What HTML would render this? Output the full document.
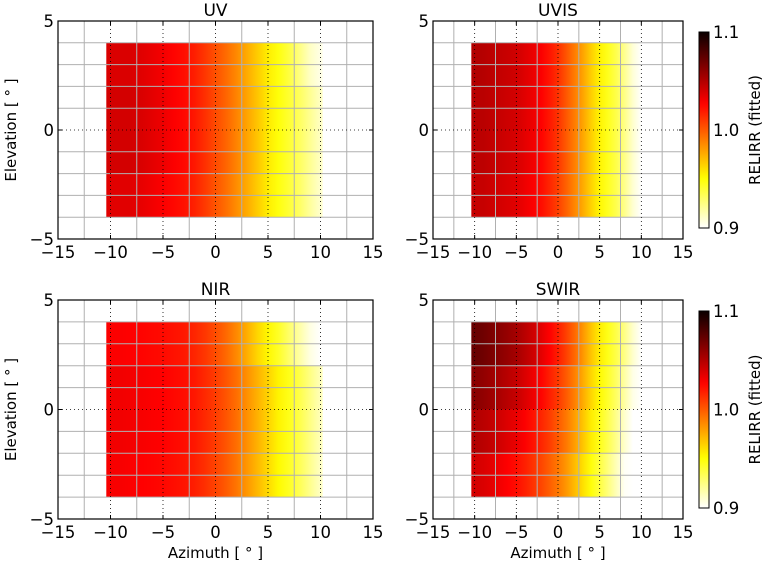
<!DOCTYPE html>
<html><head><meta charset="utf-8"><style>
html,body{margin:0;padding:0;background:#fff;}
svg{display:block;font-family:"DejaVu Sans","Liberation Sans",sans-serif;}
</style></head><body>
<svg id="fig" width="763" height="564" xmlns="http://www.w3.org/2000/svg"></svg>
<script>
const azimuthCenters=[-10,-9,-8,-7,-6,-5,-4,-3,-2,-1,0,1,2,3,4,5,6,7,8,9,10];
const elevationRows=[3,1,-1,-3];
const xTicks=[-15,-10,-5,0,5,10,15];
const yTicks=[-5,0,5];
const cbTicks=[0.9,1.0,1.1];
const uvValues=[
[1.038,1.038,1.038,1.036,1.033,1.030,1.026,1.023,1.018,1.011,1.003,0.995,0.986,0.976,0.966,0.956,0.948,0.938,0.925,0.912,0.905],
[1.040,1.040,1.040,1.038,1.035,1.032,1.028,1.025,1.020,1.013,1.005,0.997,0.988,0.978,0.968,0.957,0.949,0.941,0.932,0.922,0.912],
[1.040,1.040,1.040,1.038,1.035,1.032,1.028,1.025,1.020,1.013,1.005,0.997,0.988,0.978,0.968,0.957,0.949,0.941,0.932,0.922,0.912],
[1.036,1.036,1.036,1.034,1.031,1.028,1.025,1.022,1.017,1.010,1.002,0.994,0.985,0.976,0.966,0.956,0.948,0.940,0.931,0.920,0.910]];
const uvisValues=[
[1.050,1.049,1.047,1.045,1.043,1.041,1.037,1.033,1.028,1.021,1.013,1.002,0.990,0.978,0.965,0.954,0.945,0.935,0.922,0.908,0.9],
[1.048,1.048,1.046,1.044,1.042,1.040,1.036,1.032,1.027,1.020,1.012,1.001,0.990,0.978,0.965,0.954,0.945,0.936,0.924,0.910,0.9],
[1.047,1.047,1.045,1.043,1.041,1.039,1.035,1.031,1.026,1.019,1.011,1.000,0.989,0.977,0.965,0.954,0.945,0.936,0.924,0.910,0.9],
[1.044,1.044,1.042,1.040,1.038,1.036,1.032,1.028,1.023,1.016,1.008,0.998,0.987,0.976,0.964,0.953,0.944,0.935,0.923,0.909,0.9]];
const nirValues=[
[1.028,1.028,1.027,1.026,1.025,1.024,1.022,1.020,1.016,1.011,1.004,0.996,0.986,0.975,0.963,0.953,0.943,0.930,0.918,0.906,0.9],
[1.031,1.031,1.030,1.029,1.028,1.027,1.025,1.023,1.020,1.015,1.009,1.002,0.994,0.984,0.974,0.964,0.954,0.946,0.936,0.925,0.914],
[1.031,1.031,1.030,1.029,1.028,1.027,1.025,1.023,1.020,1.015,1.009,1.002,0.994,0.984,0.974,0.964,0.954,0.946,0.936,0.925,0.914],
[1.029,1.029,1.028,1.027,1.026,1.025,1.023,1.021,1.018,1.013,1.007,1.000,0.992,0.982,0.972,0.962,0.952,0.944,0.934,0.923,0.912]];
const swirValues=[
[1.072,1.070,1.066,1.062,1.058,1.054,1.048,1.042,1.035,1.027,1.018,1.008,0.996,0.982,0.968,0.956,0.946,0.936,0.924,0.910,0.9],
[1.062,1.060,1.056,1.052,1.048,1.044,1.038,1.032,1.026,1.018,1.010,1.000,0.989,0.976,0.963,0.952,0.942,0.931,0.918,0.905,0.9],
[1.050,1.048,1.045,1.041,1.037,1.033,1.028,1.022,1.016,1.009,1.000,0.991,0.980,0.968,0.956,0.946,0.935,0.923,0.910,0.900,0.9],
[1.040,1.038,1.035,1.031,1.027,1.023,1.018,1.012,1.006,0.999,0.991,0.982,0.971,0.960,0.949,0.938,0.926,0.914,0.902,0.900,0.9]];
const panelTitles=["UV","UVIS","NIR","SWIR"];

const NS="http://www.w3.org/2000/svg";
const svg=document.getElementById('fig');
function mk(tag,attrs,parent){const e=document.createElementNS(NS,tag);for(const k in attrs)e.setAttribute(k,attrs[k]);(parent||svg).appendChild(e);return e;}
function hotR(v){let t=1-(v-0.9)/0.2;t=Math.max(0,Math.min(1,t));
 const r=Math.min(1,0.0416+t/0.365*0.9584),g=Math.max(0,Math.min(1,(t-0.365)/0.381)),b=Math.max(0,Math.min(1,(t-0.746)/0.254));
 return `rgb(${Math.round(r*255)},${Math.round(g*255)},${Math.round(b*255)})`;}

const panels=[
 {x0:58,x1:373,y0:21,y1:239,vals:uvValues,ylab:true,xlab:false},
 {x0:433,x1:683,y0:21,y1:239,vals:uvisValues,ylab:false,xlab:false,cb:{x:699,y0:32,y1:228}},
 {x0:58,x1:373,y0:300,y1:519,vals:nirValues,ylab:true,xlab:true},
 {x0:433,x1:683,y0:300,y1:519,vals:swirValues,ylab:false,xlab:true,cb:{x:699,y0:311,y1:508}}];

const defs=mk('defs',{});
const lg=mk('linearGradient',{id:'cbgrad',x1:0,y1:1,x2:0,y2:0},defs);
for(let i=0;i<=40;i++){const v=0.9+0.2*i/40;mk('stop',{offset:(i/40),'stop-color':hotR(v)},lg);}

const AZ0=-10.4,AZ1=10.2;
panels.forEach((p,pi)=>{
 const g=mk('g',{});
 
 
 const sx=a=>p.x0+(a+15)/30*(p.x1-p.x0);
 const sy=e=>p.y1-(e+5)/10*(p.y1-p.y0);
 const cells=mk('g',{},g);
 
 
 elevationRows.forEach((el,ri)=>{
  const gid='rg'+pi+'_'+ri;
  const rg=mk('linearGradient',{id:gid,gradientUnits:'userSpaceOnUse',x1:sx(AZ0),x2:sx(AZ1),y1:0,y2:0},defs);
  azimuthCenters.forEach((az,ci)=>{
   const off=Math.max(0,Math.min(1,(az-AZ0)/(AZ1-AZ0)));
   mk('stop',{offset:off,'stop-color':hotR(p.vals[ri][ci])},rg);
  });
  const r=mk('rect',{x:sx(AZ0),y:sy(el+1)-0.3,width:sx(AZ1)-sx(AZ0),height:sy(el-1)-sy(el+1)+0.6,fill:'url(#'+gid+')'},cells);
  
  
 });
 for(let a=-12.5;a<=12.5;a+=5) mk('line',{x1:sx(a),x2:sx(a),y1:p.y0,y2:p.y1,stroke:'#b0b0b0','stroke-width':1},g);
 for(let e=-4;e<=4;e++){ if(e===0)continue; mk('line',{x1:p.x0,x2:p.x1,y1:sy(e),y2:sy(e),stroke:'#b0b0b0','stroke-width':1},g);}
 [-10,-5,0,5,10].forEach(a=>mk('line',{x1:sx(a),x2:sx(a),y1:p.y0,y2:p.y1,stroke:'#000','stroke-width':0.8,'stroke-dasharray':'1,3'},g));
 mk('line',{x1:p.x0,x2:p.x1,y1:sy(0),y2:sy(0),stroke:'#000','stroke-width':0.8,'stroke-dasharray':'1,3'},g);
 const fr=mk('rect',{x:p.x0,y:p.y0,width:p.x1-p.x0,height:p.y1-p.y0,fill:'none',stroke:'#000','stroke-width':1.2},g);
 
 
 xTicks.forEach(a=>{
  mk('line',{x1:sx(a),x2:sx(a),y1:p.y1,y2:p.y1-4,stroke:'#000'},g);
  mk('line',{x1:sx(a),x2:sx(a),y1:p.y0,y2:p.y0+4,stroke:'#000'},g);
  const t=mk('text',{x:sx(a),y:p.y1+19,'font-size':16.5,'text-anchor':'middle'},g);
  t.textContent=(a<0?'\u2212'+(-a):''+a);
  
  
 });
 yTicks.forEach(e=>{
  mk('line',{x1:p.x0,x2:p.x0+4,y1:sy(e),y2:sy(e),stroke:'#000'},g);
  mk('line',{x1:p.x1,x2:p.x1-4,y1:sy(e),y2:sy(e),stroke:'#000'},g);
  const t=mk('text',{x:p.x0-4,y:sy(e)+6,'font-size':16.5,'text-anchor':'end'},g);
  t.textContent=(e<0?'\u2212'+(-e):''+e);
  
  
 });
 const ti=mk('text',{x:(p.x0+p.x1)/2,y:p.y0-5,'font-size':17,'text-anchor':'middle'},g);
 ti.textContent=panelTitles[pi];
 
 
 if(p.ylab){const t=mk('text',{x:0,y:0,'font-size':15,'text-anchor':'middle',transform:`translate(16,${(p.y0+p.y1)/2}) rotate(-90)`},g);
  t.textContent='Elevation [ \u00b0 ]';
  
  }
 if(p.xlab){const t=mk('text',{x:(p.x0+p.x1)/2,y:558,'font-size':15,'text-anchor':'middle'},g);
  t.textContent='Azimuth [ \u00b0 ]';
  
  }
 if(p.cb){const c=p.cb;
  const cg=mk('g',{},g);
  
  
  mk('rect',{x:c.x,y:c.y0,width:10,height:c.y1-c.y0,fill:'url(#cbgrad)',stroke:'#000','stroke-width':1},cg);
  cbTicks.forEach(v=>{const y=c.y1-(v-0.9)/0.2*(c.y1-c.y0);
   const t=mk('text',{x:c.x+14,y:y+6,'font-size':16.5},cg);
   t.textContent=v.toFixed(1);
   
   });
  const t=mk('text',{x:0,y:0,'font-size':15,'text-anchor':'middle',transform:`translate(760,${(c.y0+c.y1)/2}) rotate(-90)`},cg);
  t.textContent='RELIRR (fitted)';
  
  }
});
</script>
</body></html>
